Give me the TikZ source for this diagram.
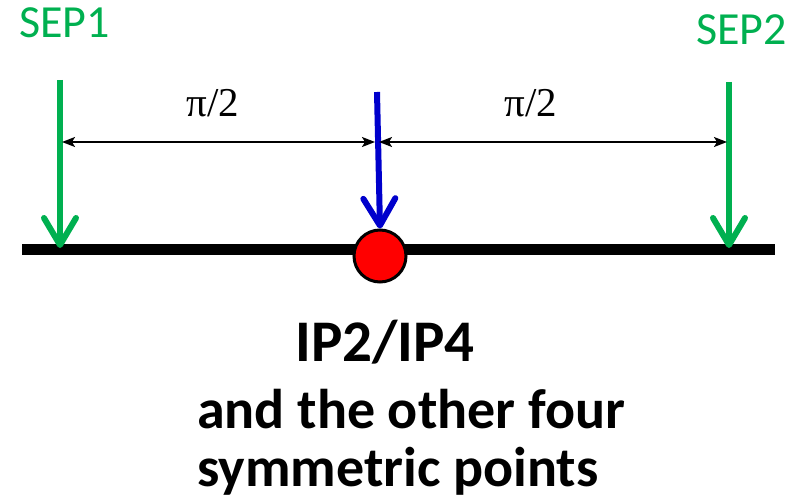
\documentclass[tikz,border=0pt]{standalone}
\usepackage{fontspec}
\setmainfont{Carlito}
\newfontfamily\pifont{Liberation Serif}
\usetikzlibrary{arrows.meta}
\definecolor{sepgreen}{RGB}{0,176,80}
\definecolor{ipblue}{RGB}{0,0,204}
\newcommand{\fsz}[1]{\fontsize{#1}{#1}\selectfont}

\begin{document}
\begin{tikzpicture}[x=1pt,y=-1pt,
  beam/.style={line width=11pt},
  kick/.style={line width=6pt,-{Straight Barb[length=27pt,width=32pt,line cap=round,line join=round]}},
  span/.style={line width=1.8pt,{Stealth[length=13pt,width=10pt,inset=3pt]}-{Stealth[length=13pt,width=10pt,inset=3pt]}},
  lbl/.style={inner sep=0pt}]
\useasboundingbox (0,0) rectangle (803,502);
% beam and interaction point
\coordinate (bl) at (22,250);\coordinate (br) at (775,250);
\draw[beam] (bl)--(br);
\node[draw,circle,fill=red,line width=3pt,minimum size=52pt,inner sep=0pt] (ip) at (380,256){};
% kicks
\coordinate (s1top) at (60,80);\coordinate (s1end) at (60,248);
\coordinate (s2top) at (729,82);\coordinate (s2end) at (729,248);
\coordinate (btop) at (377,92);
\draw[kick,sepgreen] (s1top)--(s1end);
\draw[kick,sepgreen] (s2top)--(s2end);
\draw[kick,ipblue] (btop)--(ip.north);
\node[lbl,anchor=base west,text=sepgreen,font=\fsz{46}] (sep1) at (19,38){SEP1};
\node[lbl,anchor=base west,text=sepgreen,font=\fsz{46}] (sep2) at (696,45){SEP2};
% phase advance
\coordinate (d1) at (62,142);\coordinate (dm1) at (375,142);
\coordinate (dm2) at (379,142);\coordinate (d2) at (727,142);
\draw[span] (d1)--(dm1);\draw[span] (dm2)--(d2);
\node[lbl,anchor=base,font=\pifont\fsz{41}] (ph1) at (213,117){π/2};
\node[lbl,anchor=base,font=\pifont\fsz{41}] (ph2) at (531,117){π/2};
% caption
\node[lbl,anchor=base,font=\bfseries\fsz{59}] (name) at (385,362){IP2/IP4};
\node[lbl,anchor=base west,font=\bfseries\fsz{56}] (cap1) at (197,428){and the other four};
\node[lbl,anchor=base west,font=\bfseries\fsz{56}] (cap2) at (197,486){symmetric points};
\end{tikzpicture}
\end{document}
